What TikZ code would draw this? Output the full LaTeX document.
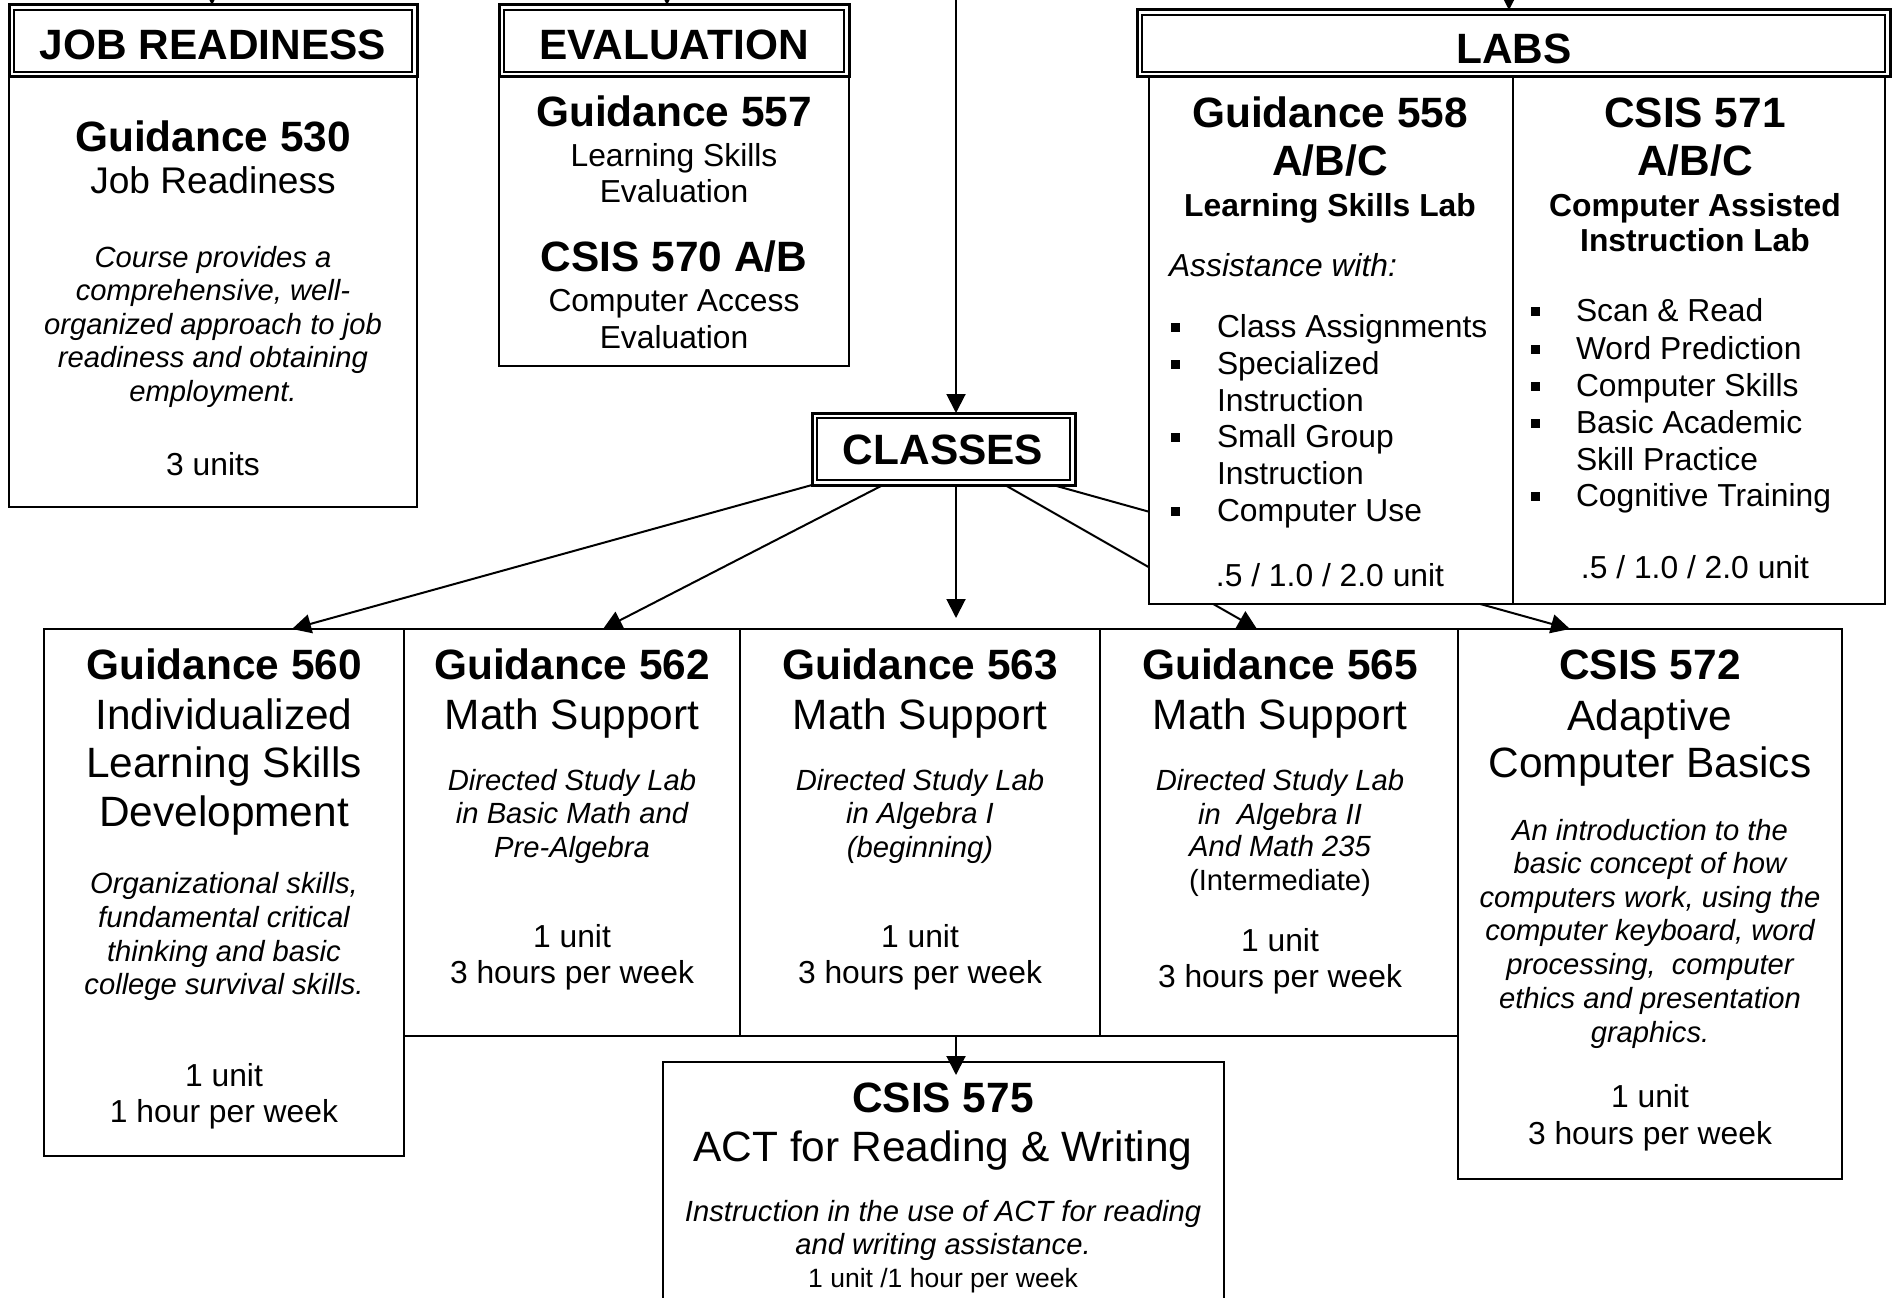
\documentclass[tikz,border=0pt]{standalone}
\usepackage{fontspec}
\setmainfont{Liberation Sans}
\usetikzlibrary{arrows.meta}
\newcommand\fsA{\fontsize{42.4pt}{48.8pt}\selectfont}
\newcommand\fsB{\fontsize{37.1pt}{42.7pt}\selectfont}
\newcommand\fsC{\fontsize{31.8pt}{36.6pt}\selectfont}
\newcommand\fsD{\fontsize{29.2pt}{33.5pt}\selectfont}
\newcommand\fsE{\fontsize{26.5pt}{30.5pt}\selectfont}
\newcommand\innerframe[1]{\draw[line width=1.5pt] ([shift={(5,5)}]#1.north west) rectangle ([shift={(-5,-5)}]#1.south east);}
\newcommand\bul[2]{\fill (#1-4.5,#2-4.5) rectangle (#1+4.5,#2+4.5);}
\tikzset{
 box/.style={draw, line width=2pt, fill=white, inner sep=0pt, outer sep=0pt, anchor=north west},
 hdr/.style={draw, line width=3pt, fill=white, inner sep=0pt, outer sep=0pt, anchor=north west},
 arr/.style={line width=2pt, -{Triangle[length=19pt,width=19pt]}},
 t/.style={inner sep=0pt, outer sep=0pt, anchor=base},
 bA/.style={t, font=\fsA\bfseries, yshift=-14.4pt},
 rA/.style={t, font=\fsA, yshift=-14.4pt},
 rB/.style={t, font=\fsB, yshift=-12.6pt},
 bC/.style={t, font=\fsC\bfseries, yshift=-10.8pt},
 rC/.style={t, font=\fsC, yshift=-10.8pt},
 iC/.style={t, font=\fsC\itshape, yshift=-10.8pt},
 iD/.style={t, font=\fsD\itshape, yshift=-9.9pt},
 rD/.style={t, font=\fsD, yshift=-9.9pt},
 rE/.style={t, font=\fsE, yshift=-9pt},
 lft/.style={anchor=base west},
}
\begin{document}
\begin{tikzpicture}[x=1pt,y=-1pt]
\path[use as bounding box, fill=white] (0,0) rectangle (1896,1298);
\clip (0,0) rectangle (1896,1298);

% ---- boxes ----
\node[box, minimum width=408pt, minimum height=430pt] (jobb) at (9,77) {};
\node[hdr, minimum width=408pt, minimum height=72pt] (jobh) at (9,5) {};
\innerframe{jobh}
\node[box, minimum width=350pt, minimum height=289pt] (evalb) at (499,77) {};
\node[hdr, minimum width=350pt, minimum height=72pt] (evalh) at (499,5) {};
\innerframe{evalh}
\node[hdr, minimum width=263pt, minimum height=72pt] (classes) at (812,413) {};
\innerframe{classes}

\node[box, minimum width=360pt, minimum height=527pt] (g560) at (44,629) {};
\node[box, minimum width=336pt, minimum height=407pt] (g562) at (404,629) {};
\node[box, minimum width=360pt, minimum height=407pt] (g563) at (740,629) {};
\node[box, minimum width=358pt, minimum height=407pt] (g565) at (1100,629) {};
\node[box, minimum width=384pt, minimum height=550pt] (c572) at (1458,629) {};
\node[box, minimum width=561pt, minimum height=270pt] (c575) at (663,1062) {};

% ---- connectors from CLASSES ----
\coordinate (top) at (956,-40);
\draw[arr] (top) -- (top |- classes.north);
\draw[arr] (classes.south west) -- ([xshift=68pt]g560.north);
\draw[arr] ([xshift=71pt]classes.south west) -- ([xshift=31pt]g562.north);
\draw[arr, shorten >=11pt] (top |- classes.south) -- (top |- g563.north);
\draw[arr] ([xshift=193pt]classes.south west) -- ([xshift=-22pt]g565.north);
\draw[arr] ([xshift=241pt]classes.south west) -- ([xshift=-80pt]c572.north);
\draw[arr] (top |- g563.south) -- ([yshift=-13pt]top |- c575.north);

% ---- labs ----
\node[box, minimum width=364pt, minimum height=527pt] (labl) at (1149,77) {};
\node[box, minimum width=372pt, minimum height=527pt] (labr) at (1513,77) {};
\node[hdr, minimum width=753pt, minimum height=67pt] (labsh) at (1137,10) {};
\innerframe{labsh}

% ---- top arrows ----
\coordinate (jobin) at (212,-40);
\coordinate (evalin) at (667,-40);
\coordinate (labsin) at (1509,-40);
\draw[arr] (jobin) -- (jobin |- jobh.north);
\draw[arr] (evalin) -- (evalin |- evalh.north);
\draw[arr] (labsin) -- (labsin |- labsh.north);

% ---- header texts ----
\node[bA] (hjob) at (213,45) {JOB READINESS};
\node[bA] (heval) at (674,45) {EVALUATION};
\node[bA] (hlabs) at (1514,49) {LABS};
\node[bA] (hcls) at (943,450) {CLASSES};

% ---- job readiness ----
\node[bA] (j1) at (213,137) {Guidance 530};
\node[rB] (j2) at (213,181) {Job Readiness};
\node[iD] (j3) at (213,258) {Course provides a};
\node[iD] (j4) at (213,291) {comprehensive, well-};
\node[iD] (j5) at (213,325) {organized approach to job};
\node[iD] (j6) at (213,358) {readiness and obtaining};
\node[iD] (j7) at (213,392) {employment.};
\node[rC] (j8) at (213,465) {3 units};

% ---- evaluation ----
\node[bA] (e1) at (674,112) {Guidance 557};
\node[rC] (e2) at (674,156) {Learning Skills};
\node[rC] (e3) at (674,192) {Evaluation};
\node[bA] (e4) at (674,257) {CSIS 570 A/B};
\node[rC] (e5) at (674,301) {Computer Access};
\node[rC] (e6) at (674,338) {Evaluation};

% ---- lab left ----
\node[bA] (l1) at (1330,113) {Guidance 558};
\node[bA] (l2) at (1330,161) {A/B/C};
\node[bC] (l3) at (1330,206) {Learning Skills Lab};
\node[iC, lft] (l4) at (1169,266) {Assistance with:};
\bul{1175}{327}\node[rC, lft] (l5) at (1217,327) {Class Assignments};
\bul{1175}{364}\node[rC, lft] (l6) at (1217,364) {Specialized};
\node[rC, lft] (l7) at (1217,401) {Instruction};
\bul{1175}{437}\node[rC, lft] (l8) at (1217,437) {Small Group};
\node[rC, lft] (l9) at (1217,474) {Instruction};
\bul{1175}{511}\node[rC, lft] (l10) at (1217,511) {Computer Use};
\node[rC] (l11) at (1330,576) {.5 / 1.0 / 2.0 unit};

% ---- lab right ----
\node[bA] (r1) at (1695,113) {CSIS 571};
\node[bA] (r2) at (1695,161) {A/B/C};
\node[bC] (r3) at (1695,206) {Computer Assisted};
\node[bC] (r4) at (1695,241) {Instruction Lab};
\bul{1535}{311}\node[rC, lft] (r5) at (1576,311) {Scan \& Read};
\bul{1535}{349}\node[rC, lft] (r6) at (1576,349) {Word Prediction};
\bul{1535}{386}\node[rC, lft] (r7) at (1576,386) {Computer Skills};
\bul{1535}{423}\node[rC, lft] (r8) at (1576,423) {Basic Academic};
\node[rC, lft] (r9) at (1576,460) {Skill Practice};
\bul{1535}{496}\node[rC, lft] (r10) at (1576,496) {Cognitive Training};
\node[rC] (r11) at (1695,568) {.5 / 1.0 / 2.0 unit};

% ---- guidance 560 ----
\node[bA] (a1) at (224,665) {Guidance 560};
\node[rA] (a2) at (224,715) {Individualized};
\node[rA] (a3) at (224,763) {Learning Skills};
\node[rA] (a4) at (224,812) {Development};
\node[iD] (a5) at (224,884) {Organizational skills,};
\node[iD] (a6) at (224,918) {fundamental critical};
\node[iD] (a7) at (224,952) {thinking and basic};
\node[iD] (a8) at (224,985) {college survival skills.};
\node[rC] (a9) at (224,1076) {1 unit};
\node[rC] (a10) at (224,1112) {1 hour per week};

% ---- guidance 562 ----
\node[bA] (b1) at (572,665) {Guidance 562};
\node[rA] (b2) at (572,715) {Math Support};
\node[iD] (b3) at (572,781) {Directed Study Lab};
\node[iD] (b4) at (572,814) {in Basic Math and};
\node[iD] (b5) at (572,848) {Pre-Algebra};
\node[rC] (b6) at (572,937) {1 unit};
\node[rC] (b7) at (572,973) {3 hours per week};

% ---- guidance 563 ----
\node[bA] (c1) at (920,665) {Guidance 563};
\node[rA] (c2) at (920,715) {Math Support};
\node[iD] (c3) at (920,781) {Directed Study Lab};
\node[iD] (c4) at (920,814) {in Algebra I};
\node[iD] (c5) at (920,848) {(beginning)};
\node[rC] (c6) at (920,937) {1 unit};
\node[rC] (c7) at (920,973) {3 hours per week};

% ---- guidance 565 ----
\node[bA] (d1) at (1280,665) {Guidance 565};
\node[rA] (d2) at (1280,715) {Math Support};
\node[iD] (d3) at (1280,781) {Directed Study Lab};
\node[iD] (d4) at (1280,815) {in\ \ Algebra II};
\node[iD] (d5) at (1280,847) {And Math 235};
\node[rD] (d6) at (1280,881) {(Intermediate)};
\node[rC] (d7) at (1280,941) {1 unit};
\node[rC] (d8) at (1280,977) {3 hours per week};

% ---- CSIS 572 ----
\node[bA] (f1) at (1650,665) {CSIS 572};
\node[rA] (f2) at (1650,716) {Adaptive};
\node[rA] (f3) at (1650,763) {Computer Basics};
\node[iD] (f4) at (1650,831) {An introduction to the};
\node[iD] (f5) at (1650,864) {basic concept of how};
\node[iD] (f6) at (1650,898) {computers work, using the};
\node[iD] (f7) at (1650,931) {computer keyboard, word};
\node[iD] (f8) at (1650,965) {processing,\ \ computer};
\node[iD] (f9) at (1650,999) {ethics and presentation};
\node[iD] (f10) at (1650,1033) {graphics.};
\node[rC] (f11) at (1650,1097) {1 unit};
\node[rC] (f12) at (1650,1134) {3 hours per week};

% ---- CSIS 575 ----
\node[bA] (k1) at (943,1098) {CSIS 575};
\node[rA] (k2) at (943,1147) {ACT for Reading \& Writing};
\node[iD] (k3) at (943,1212) {Instruction in the use of ACT for reading};
\node[iD] (k4) at (943,1245) {and writing assistance.};
\node[rE] (k5) at (943,1278) {1 unit /1 hour per week};
\end{tikzpicture}
\end{document}
